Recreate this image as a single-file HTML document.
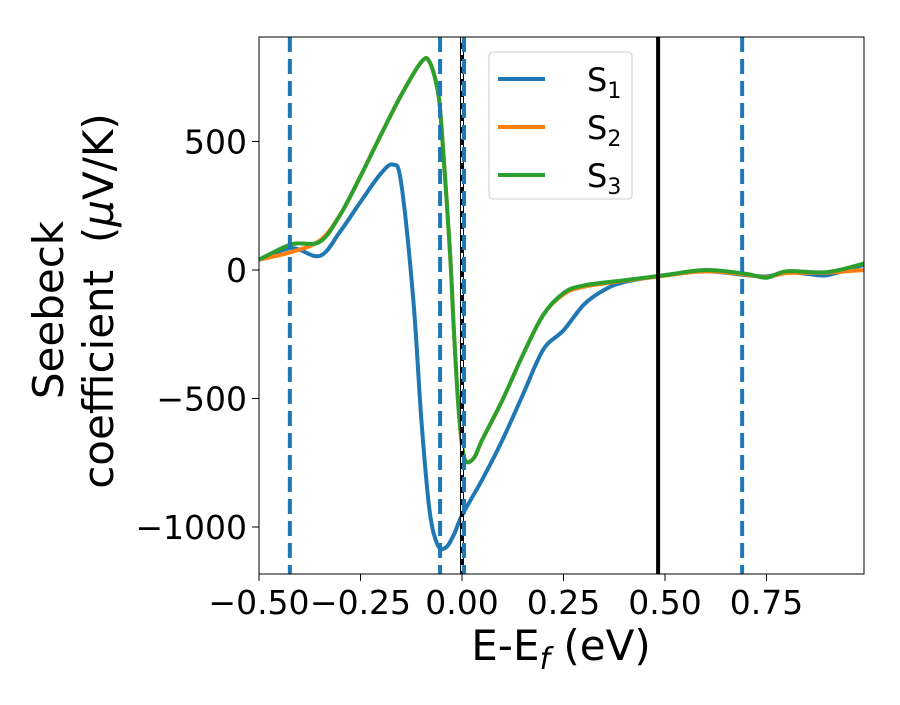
<!DOCTYPE html>
<html><head><meta charset="utf-8"><style>
body{margin:0;background:#fff}
svg text{font-family:"DejaVu Sans","Liberation Sans",sans-serif;fill:#000}
</style></head><body>
<svg id="chart" width="900" height="700" viewBox="0 0 900 700" xmlns="http://www.w3.org/2000/svg">
<defs><clipPath id="clip"><rect x="259" y="37" width="605" height="537"/></clipPath></defs>
<g id="plot" clip-path="url(#clip)"></g>
<rect x="259" y="37" width="605" height="537" fill="none" stroke="#000" stroke-width="1"/>
<g id="axes"></g>
<text x="561" y="660" font-size="42" text-anchor="middle">E-E<tspan font-style="italic" font-size="30" dy="9">f</tspan><tspan dy="-9"> (eV)</tspan></text>
<text transform="translate(63,310) rotate(-90)" font-size="42" text-anchor="middle">Seebeck</text>
<text transform="translate(113,301) rotate(-90)" font-size="42" text-anchor="middle">coefficient&#160; (<tspan font-style="italic">μ</tspan>V/K)</text>
<g>
<rect x="489" y="52" width="143" height="147" rx="4" fill="#fff" fill-opacity="0.8" stroke="#ccc"/>
<line x1="498" y1="79" x2="545" y2="79" stroke="#1f77b4" stroke-width="4"/>
<text x="587" y="91" font-size="32">S<tspan font-size="22" dy="7">1</tspan></text>
<line x1="498" y1="127" x2="545" y2="127" stroke="#ff7f0e" stroke-width="4"/>
<text x="587" y="139" font-size="32">S<tspan font-size="22" dy="7">2</tspan></text>
<line x1="498" y1="175" x2="545" y2="175" stroke="#2ca02c" stroke-width="4"/>
<text x="587" y="187" font-size="32">S<tspan font-size="22" dy="7">3</tspan></text>
</g>
</svg>
<script>
const xTicks=[-0.5,-0.25,0,0.25,0.5,0.75];
const xTickLabels=["−0.50","−0.25","0.00","0.25","0.50","0.75"];
const yTicks=[500,0,-500,-1000];
const yTickLabels=["500","0","−500","−1000"];
const energy1=[-0.5,-0.42,-0.35,-0.3,-0.25,-0.2,-0.17,-0.15,-0.12,-0.1,-0.08,-0.06,-0.04,-0.02,0,0.05,0.1,0.15,0.2,0.25,0.3,0.35,0.4,0.5,0.6,0.7,0.75,0.8,0.85,0.9,0.99];
const s1=[40,85,55,150,265,375,410,340,-115,-585,-935,-1070,-1080,-1030,-955,-815,-660,-485,-310,-235,-135,-78,-47,-20,-5,-20,-25,-8,-15,-20,20];
const energy23=[-0.5,-0.42,-0.35,-0.3,-0.25,-0.2,-0.15,-0.1,-0.08,-0.06,-0.05,-0.03,-0.02,-0.01,0,0.01,0.03,0.05,0.1,0.15,0.2,0.25,0.3,0.4,0.5,0.6,0.7,0.75,0.8,0.9,0.99];
const s2=[40,70,115,215,365,525,680,810,810,700,545,80,-235,-505,-680,-745,-730,-660,-505,-330,-175,-95,-65,-42,-22,-5,-18,-28,-12,-10,0];
const s3=[40,100,110,215,365,525,680,810,810,700,545,80,-235,-505,-680,-745,-730,-660,-505,-330,-175,-90,-60,-40,-20,0,-15,-30,-5,-8,25];
const dashedLines=[-0.424,-0.054,0.005,0.69];
const solidLines=[0,0.483];
const X=v=>462+v*406, Y=v=>270-v*0.257;
const NS="http://www.w3.org/2000/svg";
const plot=document.getElementById('plot'), axes=document.getElementById('axes');
function mk(tag,attrs,parent){const e=document.createElementNS(NS,tag);for(const k in attrs)e.setAttribute(k,attrs[k]);parent.appendChild(e);return e;}
function path(xs,ys){const p=xs.map((x,i)=>[X(x),Y(ys[i])]);let d=`M${p[0][0]},${p[0][1]}`;
for(let i=0;i<p.length-1;i++){const p0=p[Math.max(0,i-1)],p1=p[i],p2=p[i+1],p3=p[Math.min(p.length-1,i+2)];
d+=` C${p1[0]+(p2[0]-p0[0])/6},${p1[1]+(p2[1]-p0[1])/6} ${p2[0]-(p3[0]-p1[0])/6},${p2[1]-(p3[1]-p1[1])/6} ${p2[0]},${p2[1]}`;}return d;}
[[energy1,s1,'#1f77b4','s1'],[energy23,s2,'#ff7f0e','s2'],[energy23,s3,'#2ca02c','s3']].forEach(([xs,ys,c,n])=>{
const e=mk('path',{d:path(xs,ys),fill:'none',stroke:c,'stroke-width':4},plot);

});
solidLines.forEach((v,i)=>{const e=mk('line',{x1:X(v),x2:X(v),y1:37,y2:574,stroke:'#000','stroke-width':4},plot);

});
mk('line',{x1:X(0),x2:X(0),y1:37,y2:574,stroke:'#fff','stroke-width':2,'stroke-dasharray':'6,6'},plot);
dashedLines.forEach((v,i)=>{const e=mk('line',{x1:X(v),x2:X(v),y1:37,y2:574,stroke:'#1f77b4','stroke-width':4,'stroke-dasharray':'15,7'},plot);

});
xTicks.forEach((v,i)=>{mk('line',{x1:X(v),x2:X(v),y1:574,y2:581,stroke:'#000'},axes);
const t=mk('text',{x:X(v),y:614,'font-size':33,'text-anchor':'middle'},axes);t.textContent=xTickLabels[i];

});
yTicks.forEach((v,i)=>{mk('line',{x1:252,x2:259,y1:Y(v),y2:Y(v),stroke:'#000'},axes);
const t=mk('text',{x:247,y:Y(v)+12,'font-size':33,'text-anchor':'end'},axes);t.textContent=yTickLabels[i];

});
</script>
</body></html>
